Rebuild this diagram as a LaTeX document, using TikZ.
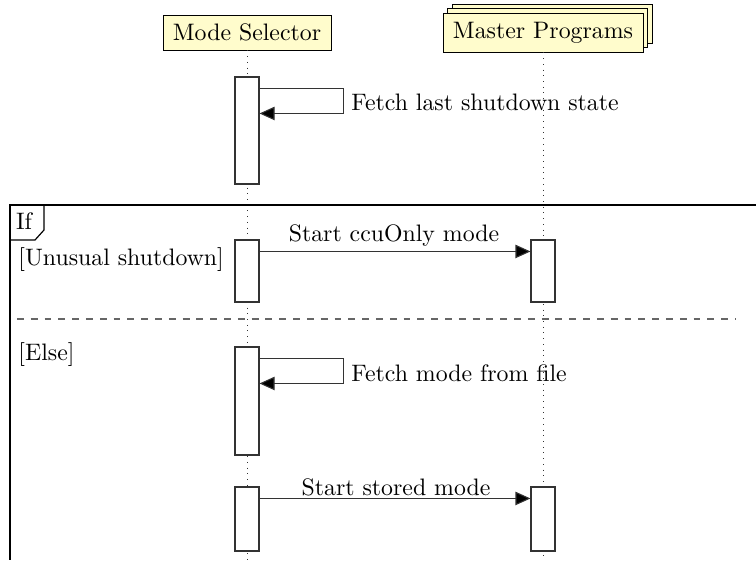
\documentclass[tikz,border=0pt]{standalone}
\usetikzlibrary{arrows.meta}
\definecolor{hdrfill}{HTML}{FFFCCC}
\begin{document}
\begin{tikzpicture}[x=0.42pt,y=-0.42pt,
  hdr/.style={draw=black, fill=hdrfill, line width=0.4pt, minimum width=168*0.42pt, minimum height=35*0.42pt, inner sep=0pt},
  hdrm/.style={draw=black, fill=hdrfill, line width=0.4pt, minimum width=200*0.42pt, minimum height=39*0.42pt, inner sep=0pt},
  act/.style={draw=black!80, fill=white, line width=0.45pt, minimum width=24*0.42pt, inner sep=0pt},
  life/.style={dotted, line width=0.4pt, black!80},
  msg/.style={draw=black!80, line width=0.45pt, -{Triangle[length=6.3pt,width=5.6pt,fill=black]}},
  frm/.style={line width=0.6pt, black},
  lbl/.style={inner sep=0pt, font=\normalsize}
]
\useasboundingbox (0,0) rectangle (756,560);

% headers
\node[hdr] (ms) at (247,32.5) {Mode Selector};
\node[hdrm] (mpb) at (552,23.5) {};
\node[hdrm] (mpm) at (547.5,28) {};
\node[hdrm] (mp) at (543,32.5) {Master Programs};

% lifelines
\coordinate (msend) at (247,560);
\coordinate (mpend) at (543,560);
\draw[life] (ms.south) -- (msend);
\draw[life] (mp.south) -- (mpend);

% frame
\coordinate (fTL) at (10,205);
\coordinate (fTR) at (756,205);
\coordinate (fBL) at (10,560);
\coordinate (dL) at (10,319);
\coordinate (dR) at (736,319);
\draw[frm] (fTR) -- (fTL) -- (fBL);
\draw[line width=0.5pt, black!60, dash pattern=on 2.9pt off 2.9pt, dash phase=2.9pt] (dL) -- (dR);
\draw[line width=0.5pt, black] (10,205) -- (44,205) -- (44,230) -- (35,240) -- (10,240);
\node[lbl] (iftag) at (24,221) {If};
\node[lbl, anchor=west] (g1) at (18,260) {[Unusual shutdown]};
\node[lbl, anchor=west] (g2) at (18,355) {[Else]};

% activations
\node[act, minimum height=107*0.42pt] (a1) at (247,130.5) {};
\node[act, minimum height=62*0.42pt] (a2) at (247,271) {};
\node[act, minimum height=62*0.42pt] (b2) at (543,271) {};
\node[act, minimum height=108*0.42pt] (a3) at (247,401) {};
\node[act, minimum height=64*0.42pt] (a4) at (247,519) {};
\node[act, minimum height=64*0.42pt] (b4) at (543,519) {};

% message 1 (self)
\draw[msg] ([yshift=-12*0.42pt]a1.north east) -- ++(84,0) -- ++(0,25) -- ([yshift=-37*0.42pt]a1.north east);
\node[lbl, anchor=west] (l1) at (351,102) {Fetch last shutdown state};

% message 2
\draw[msg] ([yshift=-12*0.42pt]a2.north east) -- ([yshift=-12*0.42pt]b2.north west);
\node[lbl] (l2) at (394,236) {Start ccuOnly mode};

% message 3 (self)
\draw[msg] ([yshift=-12*0.42pt]a3.north east) -- ++(84,0) -- ++(0,25) -- ([yshift=-37*0.42pt]a3.north east);
\node[lbl, anchor=west] (l3) at (351,373) {Fetch mode from file};

% message 4
\draw[msg] ([yshift=-12*0.42pt]a4.north east) -- ([yshift=-12*0.42pt]b4.north west);
\node[lbl] (l4) at (396,487) {Start stored mode};
\end{tikzpicture}
\end{document}
